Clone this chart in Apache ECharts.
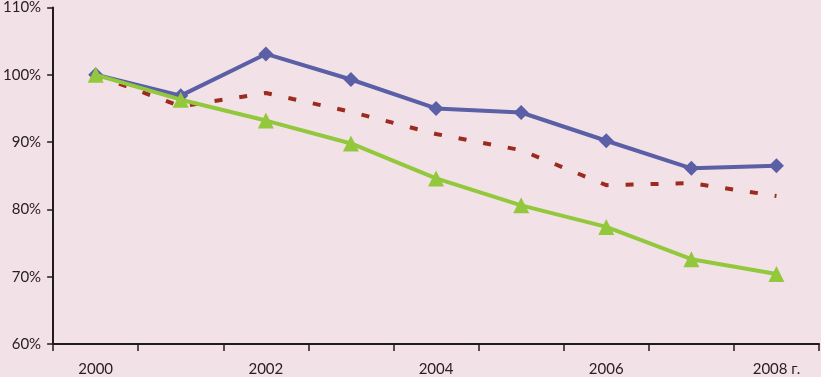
<!DOCTYPE html>
<html>
<head>
<meta charset="utf-8">
<script src="https://cdn.jsdelivr.net/npm/echarts@6/dist/echarts.min.js"></script>
<style>
  html, body { margin: 0; padding: 0; background: #f2e2e8; }
  #chart { width: 821px; height: 377px; }
</style>
</head>
<body>
<div id="chart"></div>
<script>
// годы (подпись у последнего — с «г.»)
var years = ['2000', '2001', '2002', '2003', '2004', '2005', '2006', '2007', '2008 г.'];
// значения, % от 2000 года
var blueSeries = [100, 96.9, 103.1, 99.3, 95.0, 94.4, 90.2, 86.1, 86.5];
var redSeries = [100, 95.3, 97.3, 94.5, 91.2, 88.8, 83.6, 83.9, 82.0];
var greenSeries = [100, 96.3, 93.2, 89.8, 84.6, 80.6, 77.4, 72.6, 70.4];
var yTicks = [60, 70, 80, 90, 100, 110];

var axisColor = '#231a1c';
var textStyle = { color: '#2a2022', fontFamily: 'Lato', fontSize: 15 };

var chart = echarts.init(document.getElementById('chart'), null, { renderer: 'canvas' });

chart.setOption({
  backgroundColor: '#f2e2e8',
  animation: false,
  grid: { left: 52, right: 2, top: 6, bottom: 33 },
  xAxis: {
    type: 'category',
    data: years,
    boundaryGap: true,
    axisLine: { lineStyle: { color: axisColor, width: 2 } },
    axisTick: { show: true, interval: 0, length: 7, lineStyle: { color: axisColor, width: 1.5 } },
    axisLabel: Object.assign({ interval: 1, margin: 18 }, textStyle)
  },
  yAxis: {
    type: 'value',
    min: yTicks[0],
    max: yTicks[yTicks.length - 1],
    interval: 10,
    axisLine: { show: true, lineStyle: { color: axisColor, width: 2 } },
    axisTick: { show: true, length: 6, lineStyle: { color: axisColor, width: 1.5 } },
    splitLine: { show: false },
    axisLabel: Object.assign({ margin: 12, formatter: '{value}%' }, textStyle)
  },
  series: [
    {
      name: 'blue',
      type: 'line',
      data: blueSeries,
      symbol: 'diamond',
      symbolSize: 15,
      lineStyle: { color: '#5a5fa6', width: 4 },
      itemStyle: { color: '#5a5fa6' },
      z: 3
    },
    {
      name: 'red',
      type: 'line',
      data: redSeries,
      symbol: 'none',
      lineStyle: { color: '#9c2a1e', width: 4, type: [8, 17] },
      z: 2
    },
    {
      name: 'green',
      type: 'line',
      data: greenSeries,
      symbol: 'triangle',
      symbolSize: 16,
      lineStyle: { color: '#93c83c', width: 4 },
      itemStyle: { color: '#93c83c' },
      z: 4
    }
  ]
});
</script>
</body>
</html>
